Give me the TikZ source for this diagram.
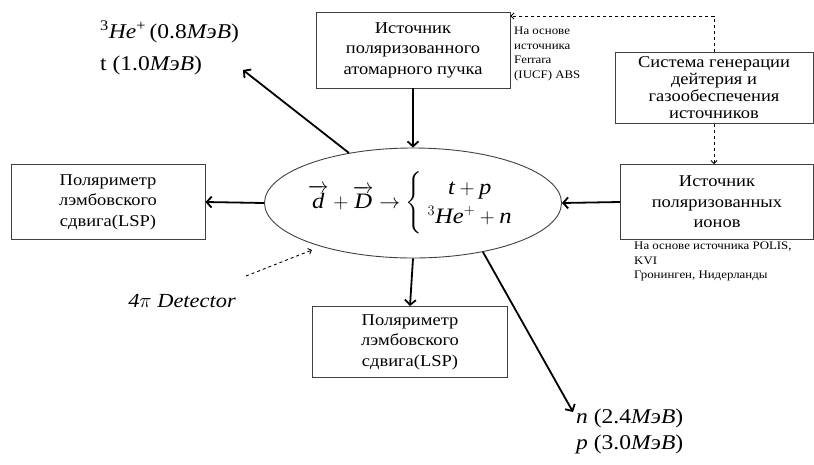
\documentclass[tikz,border=0pt]{standalone}
\usepackage{amsmath}
\usepackage{fontspec}
\setmainfont[FakeStretch=1.12]{Liberation Serif}
\usetikzlibrary{positioning,shapes.geometric,arrows.meta,calc}
\tikzset{block/.style = {draw=black!75, line width=0.9pt, align=center, inner sep=2pt, font=\fontsize{16.5}{20.5}\selectfont},
  flow/.style = {line width=1.8pt, -{Straight Barb[length=5pt,width=11pt]}},
  feed/.style = {line width=0.9pt, dashed, -{Straight Barb[length=3pt,width=6pt]}},
  note/.style = {align=left, inner sep=0pt, font=\fontsize{11.5}{14.5}\selectfont},
  energy/.style = {align=left, inner sep=0pt, font=\fontsize{21}{#1}\selectfont}}

\begin{document}
\begin{tikzpicture}[x=1pt,y=-1pt]
  \useasboundingbox (0,0) rectangle (814,464);

  \node [block, minimum width=194pt, minimum height=76pt] (abs) at (413,50) {Источник\\поляризованного\\атомарного пучка};
  \node [block, minimum width=198pt, minimum height=71pt, font=\fontsize{16.5}{17}\selectfont] (gas) at (714,88) {Система генерации\\дейтерия и\\газообеспечения\\источников};
  \node [block, minimum width=193pt, minimum height=75pt] (ions) at (717,202) {Источник\\поляризованных\\ионов};
  \node [block, minimum width=194pt, minimum height=75pt] (lspleft) at (108,202) {Поляриметр\\лэмбовского\\сдвига(LSP)};
  \node [block, minimum width=195pt, minimum height=71pt] (lspdown) at (410,342) {Поляриметр\\лэмбовского\\сдвига(LSP)};

  \node [draw=black!75, line width=0.9pt, ellipse, inner sep=0pt, minimum width=268pt, minimum height=110pt, font=\fontsize{22}{26}\selectfont] (reac) at (413,203)
    {$\renewcommand{\arraystretch}{1.1}\overrightarrow{\textit{d}}+\overrightarrow{\textit{D}}\rightarrow
      \left\{\begin{array}{c}\textit{t}+\textit{p}\\ {}^{3}\textit{He}^{+}+\textit{n}\end{array}\right.$};

  \node [note, anchor=north west] (absnote) at (514,27) {На основе\\источника\\Ferrara\\(IUCF) ABS};
  \node [note, anchor=north west] (ionsnote) at (634,242) {На основе источника POLIS,\\KVI\\Гронинген, Нидерланды};

  \node [energy=32, anchor=north west] (heat) at (100,21) {\textsuperscript{3}\textit{He}\textsuperscript{+}\,(0.8\textit{MэB})\\t (1.0\textit{MэB})};
  \node [energy=26, anchor=north west] (np) at (576,409) {\textit{n} (2.4\textit{MэB})\\\textit{p} (3.0\textit{MэB})};
  \node [font=\fontsize{20}{24}\selectfont\itshape] (det) at (182,301) {4$\pi$ Detector};

  \coordinate (heend) at (243,70);
  \coordinate (nend) at (573,412);
  \coordinate (gasturn) at (714,16);
  \coordinate (dettail) at (246,276);
  \coordinate (dethead) at (312,250);

  \draw [flow] (abs.south) -- (reac.north);
  \draw [flow] (reac.west) -- (lspleft.east);
  \draw [flow] (ions.west) -- (reac.east);
  \draw [flow] (reac.south) -- (lspdown.north);
  \draw [flow] (reac.142) -- (heend);
  \draw [flow] (reac.-35) -- (nend);

  \draw [feed] (gas.north) -- (gasturn) -- (abs.east |- gasturn);
  \draw [feed] (gas.south) -- (gas.south |- ions.north);
  \draw [feed] (dettail) -- (dethead);
\end{tikzpicture}
\end{document}
